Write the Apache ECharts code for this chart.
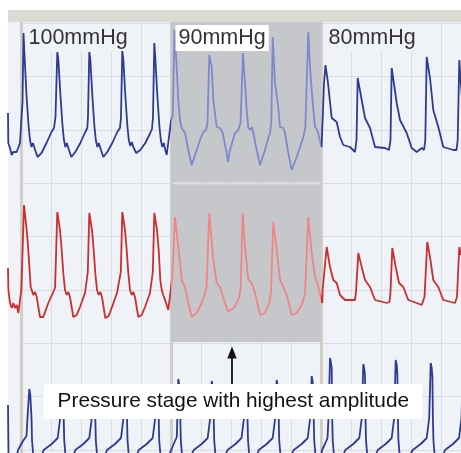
<!DOCTYPE html>
<html><head><meta charset="utf-8">
<script src="https://cdn.jsdelivr.net/npm/echarts@6/dist/echarts.min.js"></script>
<style>html,body{margin:0;padding:0;background:#fff}#c{width:461px;height:453px}</style>
</head><body><div id="c"></div>
<script>
// x: sample index (30 samples per grid division), 0 = start of the 100 mmHg stage
const stages = [
  { name: '100mmHg', start: 0, end: 150 },
  { name: '90mmHg', start: 150, end: 300 },
  { name: '80mmHg', start: 300, end: 450 }
];
const highlightStage = '90mmHg';
const annotationText = 'Pressure stage with highest amplitude';
const annotationSample = 211;

// channel 1 (upper blue trace), [sample, amplitude]
const topChannel = [
[-13,70],[-12.7,40],[-11,35],[-9.3,28],[-7.7,31],[-6,30],[-4.3,31],[-2.7,30],[-1,40],[0.5,66],[1.5,80],[2.5,150],
[3.5,128],[5.5,88],[7.5,58],[9,43],[10.5,36],[12,40],[13.5,35],[16.5,26],[20.5,30],[25.5,40],[30.5,51],[33,55],[34.5,66],
[36.3,131],
[37.3,124],[39.3,90],[41.3,60],[42.8,44],[44.3,36],[45.8,40],[47.3,35],[50.3,26],[54.3,31],[59.3,40],[64.3,51],[66.3,55],[67,66],
[68.3,131],
[69.3,124],[71.3,88],[73.3,58],[74.8,43],[76.3,36],[77.8,40],[79.3,35],[82.3,26],[86.3,31],[91.3,40],[96.3,51],[99,55],[100,66],
[101.3,132],
[102.3,124],[104.3,88],[106.3,58],[107.8,43],[109.3,37],[110.8,41],[112.3,36],[115.3,30],[119.3,33],[124.3,40],[129.3,50],[131,54],[132,66],
[133.3,140],
[134.3,125],[136.3,88],[138.3,58],[139.8,43],[141.3,36],[142.8,40],[144.3,33],[145.7,28],[147,30],
[150,62],[151.8,68],
[153.5,153],
[155.7,116],[157.3,83],[159,63],[160.7,55],[162.3,56],[164,50],[167.3,33],[170.7,18],[172.3,20],[175.7,33],[179,43],[182.3,51],[185,53],[186.5,60],
[188.3,128],
[190.7,116],[192.3,83],[195.7,56],[199,55],[201.7,50],[205.7,30],[207,21],[209,33],[214,50],[217.3,53],[219.5,60],
[222,130],
[224,100],[225.7,73],[227.3,55],[229.7,53],[231,56],[232.3,50],[235.7,33],[239,18],[240.7,20],[244,33],[247.3,45],[249,50],[250.3,60],
[251.7,146],
[254,100],[257.3,76],[259,56],[262.3,55],[264,50],[267.3,30],[270.7,13],[272.3,15],[275.7,26],[279,36],[282.3,46],[284.3,55],
[287.3,151],
[289,116],[291.7,80],[294,56],[296.3,53],[297.3,53],
[300.5,36],[301.5,60],[303,100],[304.5,118],
[307,100],[310.7,65],[315.7,61],[319,46],[322.3,38],[329,36],[334,31],[335.5,43],
[336.7,105],
[340.7,83],[344,65],[349,55],[354,36],[364,35],[368,33],[369.5,43],
[370.7,115],
[375.7,80],[379,63],[385.7,50],[390.7,35],[395.7,31],[400.7,35],[403,33],[404.3,43],
[405.7,126],
[409,105],[412.3,73],[417.3,56],[422.3,36],[432.3,33],[435.5,33],[436.7,43],
[438.3,123],[440,98],[442,73]
];

// channel 2 (middle red trace)
const midChannel = [
[-13,74],[-12.6,52],[-11,39],[-9.3,34],[-7.7,39],[-6,34],[-4.3,37],[-2.7,29],
[0.3,52],[0.8,66],[3,137],[5.7,112],[7.3,92],[9.7,55],[12.3,47],[14,50],[15.7,45],[19,25],[22.3,25],[27.3,39],[32.3,50],[34,54],[34.6,72],
[36.3,130],[39,112],[40.7,92],[42.3,69],[44,52],[45.7,47],[47.3,50],[49,45],[52.3,25],[55.7,27],[59,35],[64,49],[65.7,50],[66.8,70],
[68.3,129],[71,112],[72.7,92],[74.3,69],[76,52],[77.7,47],[79.3,50],[81,45],[84.3,24],[87.7,26],[91,35],[96,49],[97.7,51],[99.8,70],
[101.3,130],[104,112],[105.7,92],[107.3,69],[109,52],[110.7,47],[112.3,50],[114,45],[117.3,25],[120.7,27],[124,35],[129,49],[130.7,51],[131.8,70],
[133.3,129],[136,112],[137.7,92],[139.3,62],[140.7,52],[142.3,47],[144,49],[145.7,37],[147.3,32],
[151.3,65],
[154,125],[157.3,95],[160.7,62],[164,55],[166,45],[170.7,25],[175.7,29],[180.7,39],[184,49],[185.5,55],
[188.3,129],[192.3,82],[195.7,59],[199,55],[204,39],[207,30],[209,29],[214,35],[218.3,45],[219.7,55],
[221.7,129],[224,95],[227.3,62],[230.7,59],[234,49],[239,27],[244,29],[248.3,39],[250,50],
[252.3,120],[255.7,92],[259,62],[262.3,55],[265.7,47],[270.7,27],[275.7,29],[280.7,37],[284,48],
[287.3,125],[290.7,89],[294,65],[296.3,59],[297.5,57],
[301.3,39],[301.6,52],
[305.7,95],[309,75],[312.3,62],[315.7,59],[319,47],[324,42],[334,42],[335,50],
[337.3,89],[340.7,75],[344,62],[349,55],[354,42],[365.7,39],[368.5,40],[369.5,50],
[371.3,94],[374.7,75],[378,59],[382.3,55],[387.3,42],[395.7,39],[400.7,37],[403.5,45],
[406.3,100],[409,85],[412.3,62],[417.3,55],[422.3,42],[434,39],[436,45],
[438.3,95],[440,87]
];

// channel 3 (lower blue trace)
const bottomChannel = [
[-13,48],[-12.5,-2],[-11,-15],[-6,-12],[-3,3],[2,12],[5.5,17],[6.5,35],[8.3,64],[9.3,58],[10.5,35],[11,13],[12.5,-5],[16,-15],
[22.7,3],[30.7,9],[36.7,15],[38.2,17],[39.2,35],[40.7,62],[41.7,57],[42.7,35],[43.2,13],[44.7,-5],[48.7,-15],
[54.3,3],[62.3,9],[68.3,15],[69.8,17],[70.8,35],[72.3,62],[73.3,57],[74.3,35],[74.8,13],[76.3,-5],[80.3,-15],
[86,3],[94,9],[100,15],[101.5,17],[102.5,35],[104,62],[105,57],[106,35],[106.5,13],[108,-5],[112,-15],
[117.7,3],[125.7,9],[131.7,15],[133.2,17],[134.2,35],[135.7,63],[136.7,58],[137.7,35],[138.2,13],[139.7,-5],[143.7,-15],
[147,-5],[151,5],[154,12],[155.8,16],[156.3,35],[157.3,74],[158.3,68],[159.3,35],[159.8,13],[161.3,-5],[165.3,-15],
[172.7,3],[180.7,9],[186.7,15],[188.2,17],[189.2,35],[190.7,72],[191.7,66],[192.7,35],[193.2,13],[194.7,-5],[198.7,-15],
[206.5,3],[214.5,9],[220.5,15],[222,17],[223,35],[224.5,61],[225.5,56],[226.5,35],[227,13],[228.5,-5],[232.5,-15],
[237.7,3],[245.7,9],[251.7,15],[253.2,17],[254.2,35],[255.7,73],[256.7,67],[257.7,35],[258.2,13],[259.7,-5],[263.7,-15],
[272.7,3],[280.7,9],[286.7,15],[288.2,17],[289.2,35],[290.7,77],[291.7,71],[292.7,35],[293.2,13],[294.7,-5],[298.7,-15],
[301,3],[304,9],[306.5,15],[307.5,35],[309,95],[310,90],[310.7,85],[311.2,35],[311.7,13],[313.2,-5],[317.2,-15],
[324.3,3],[332.3,9],[338.3,15],[339.8,17],[340.8,35],[342.3,89],[343.3,84],[344,78],[344.5,35],[345,13],[346.5,-5],[350.5,-15],
[356.7,3],[364.7,9],[370.7,15],[372.2,17],[373.2,35],[374.7,93],[375.7,88],[376.4,78],[376.9,35],[377.4,13],[378.9,-5],[382.9,-15],
[391.7,3],[399.7,9],[405.7,15],[407.2,17],[408.2,35],[409.7,90],[410.7,85],[411.4,76],[411.9,35],[412.4,13],[413.9,-5],[417.9,-15],
[424,3],[432,9],[438,15],[439.5,17],[440.5,35],[442,93]
];

const X_MIN = -13, X_MAX = 440;
const BLUE = '#2f3b92', BLUE_LIGHT = '#7f88cc', RED = '#c92f2f', RED_LIGHT = '#f08585';
const PLOT_BG = '#eff2f7', HILITE = '#c6c7ca';
const FONT = '"Liberation Sans", Arial, Helvetica, sans-serif';
const LW = 1.8;

const hi = stages.find(s => s.name === highlightStage);
function pieces(base, light) {
  return [{ lt: hi.start, color: base }, { gte: hi.start, lt: hi.end, color: light }, { gte: hi.end, color: base }];
}
const hidden = (gi, min, max) => ({ gridIndex: gi, type: 'value', min, max, show: false });

const chart = echarts.init(document.getElementById('c'));
chart.setOption({
  animation: false,
  backgroundColor: '#ffffff',
  grid: [
    { left: 8, right: 0, top: 22, height: 161 },
    { left: 8, right: 0, top: 183, height: 159 },
    { left: 8, right: 0, top: 342, height: 111 },
    { left: 21, right: 0, top: 23.4, height: 426.67 },
    { left: 8, right: 0, top: 22, bottom: 0, show: true, backgroundColor: PLOT_BG, borderWidth: 0, z: -2 },
    { left: 8, right: 0, top: 10, height: 12, show: true, backgroundColor: '#dcdad5', borderWidth: 0, z: -2 }
  ],
  xAxis: [
    hidden(0, X_MIN, X_MAX), hidden(1, X_MIN, X_MAX), hidden(2, X_MIN, X_MAX),
    { gridIndex: 3, type: 'value', min: 0, max: X_MAX, interval: 30,
      axisLine: { show: false }, axisTick: { show: false }, axisLabel: { show: false },
      splitLine: { show: true, lineStyle: { color: '#d9dde3', width: 1 } } },
    hidden(4, X_MIN, X_MAX), hidden(5, 0, 1)
  ],
  yAxis: [
    hidden(0, 0, 161), hidden(1, 0, 159), hidden(2, 0, 111),
    { gridIndex: 3, type: 'value', min: 0, max: 8, interval: 1,
      axisLine: { show: false }, axisTick: { show: false }, axisLabel: { show: false },
      splitLine: { show: true, lineStyle: { color: '#d9dde3', width: 1 } } },
    hidden(4, 0, 1), hidden(5, 0, 1)
  ],
  visualMap: [
    { type: 'piecewise', show: false, seriesIndex: 0, dimension: 0, pieces: pieces(BLUE, BLUE_LIGHT) },
    { type: 'piecewise', show: false, seriesIndex: 1, dimension: 0, pieces: pieces(RED, RED_LIGHT) }
  ],
  series: [
    { type: 'line', xAxisIndex: 0, yAxisIndex: 0, data: topChannel, showSymbol: false, symbol: 'none',
      lineStyle: { width: LW }, z: 3, silent: true,
      markArea: { silent: true, z: 2, itemStyle: { color: HILITE }, label: { show: false },
        data: [[{ xAxis: hi.start, yAxis: 0.6 }, { xAxis: hi.end, yAxis: 161 }]] } },
    { type: 'line', xAxisIndex: 1, yAxisIndex: 1, data: midChannel, showSymbol: false, symbol: 'none',
      lineStyle: { width: LW }, z: 3, silent: true,
      markArea: { silent: true, z: 2, itemStyle: { color: HILITE }, label: { show: false },
        data: [[{ xAxis: hi.start, yAxis: 0 }, { xAxis: hi.end, yAxis: 157.8 }]] } },
    { type: 'line', xAxisIndex: 2, yAxisIndex: 2, data: bottomChannel, showSymbol: false, symbol: 'none',
      lineStyle: { width: LW, color: BLUE }, itemStyle: { color: BLUE }, z: 3, silent: true },
    { type: 'line', xAxisIndex: 4, yAxisIndex: 4, data: [], silent: true, z: 1,
      markLine: { silent: true, z: 1, symbol: ['none', 'none'], label: { show: false },
        lineStyle: { color: '#d3cfc6', width: 3, type: 'solid' },
        emphasis: { disabled: true },
        data: stages.map(s => ({ xAxis: s.start })) } }
  ]
});

const g = [];
stages.forEach(s => {
  const px = chart.convertToPixel({ xAxisIndex: 0 }, s.start);
  g.push({ type: 'text', z: 100, x: px + 4.5, y: 38,
    style: { text: s.name, font: '21.5px ' + FONT, fill: '#333333',
      backgroundColor: s.name === highlightStage ? '#ffffff' : PLOT_BG,
      padding: [2, 3, 3, 3], lineHeight: 21, align: 'left', verticalAlign: 'middle' } });
});
const ax = chart.convertToPixel({ xAxisIndex: 2 }, annotationSample);
g.push({ type: 'line', z: 100, shape: { x1: ax, y1: 384, x2: ax, y2: 356 }, style: { stroke: '#111', lineWidth: 1.8 } });
g.push({ type: 'polygon', z: 100, shape: { points: [[ax, 346.5], [ax - 4.7, 358.5], [ax + 4.7, 358.5]] }, style: { fill: '#111' } });
g.push({ type: 'text', z: 100, x: ax + 0.8, y: 401.5,
  style: { text: annotationText, font: '20.8px ' + FONT, fill: '#111111', backgroundColor: '#ffffff',
    padding: [7, 13, 7, 14], lineHeight: 21, align: 'center', verticalAlign: 'middle' } });
chart.setOption({ graphic: g });
</script></body></html>
